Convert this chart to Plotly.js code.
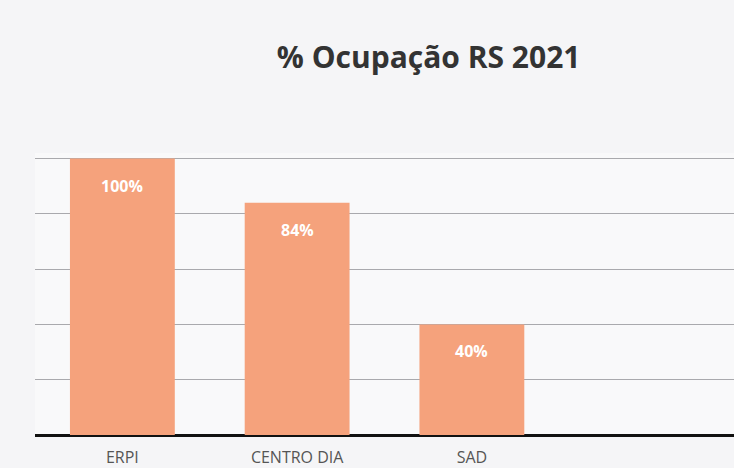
<!DOCTYPE html>
<html>
<head>
<meta charset="utf-8">
<script src="https://cdn.plot.ly/plotly-3.0.1.min.js"></script>
<style>html,body{margin:0;padding:0;background:#f5f5f7;}#chart{width:734px;height:468px;}</style>
</head>
<body>
<div id="chart"></div>
<script>
var categories = ["ERPI", "CENTRO DIA", "SAD", ""];
var values = [100, 84, 40, null];
var labels = ["100%", "84%", "40%", ""];
var yTicks = [0, 20, 40, 60, 80, 100];

var idx = categories.map(function(_, i){ return i; });

var trace = {
  type: 'bar',
  x: idx,
  y: values,
  width: 0.6,
  textposition: 'none',
  marker: {color: '#f5a27c'},
  hoverinfo: 'none'
};

var annotations = [];
values.forEach(function(v, i){
  if (v === null) return;
  annotations.push({
    x: idx[i], y: v, xref: 'x', yref: 'y',
    text: '<b>' + labels[i] + '</b>',
    showarrow: false, yanchor: 'middle', yshift: -27,
    font: {family: 'Open Sans, sans-serif', size: 16, color: '#ffffff'}
  });
});

var layout = {
  width: 734, height: 468,
  margin: {l: 35, r: 0, t: 153, b: 33},
  paper_bgcolor: '#f5f5f7',
  plot_bgcolor: '#f9f9fa',
  showlegend: false,
  annotations: annotations,
  title: {
    text: '<b>% Ocupação RS 2021</b>',
    font: {family: 'Open Sans, sans-serif', size: 30, color: '#333333'},
    x: 0.584, xanchor: 'center', y: 0.878, yanchor: 'middle'
  },
  xaxis: {
    range: [-0.5, categories.length - 0.5],
    tickvals: idx,
    ticktext: categories,
    tickfont: {family: 'Open Sans, sans-serif', size: 16, color: '#555555'},
    ticklabelstandoff: 11,
    showgrid: false,
    zeroline: false,
    showline: false,
    fixedrange: true
  },
  yaxis: {
    range: [0, 102],
    tickvals: yTicks,
    showticklabels: false,
    showgrid: true,
    gridcolor: '#a9a9ad',
    gridwidth: 1,
    zeroline: true,
    zerolinecolor: '#111111',
    zerolinewidth: 3,
    fixedrange: true
  },
  bargap: 0.4
};

Plotly.newPlot('chart', [trace], layout, {displayModeBar: false, staticPlot: true});
</script>
</body>
</html>
